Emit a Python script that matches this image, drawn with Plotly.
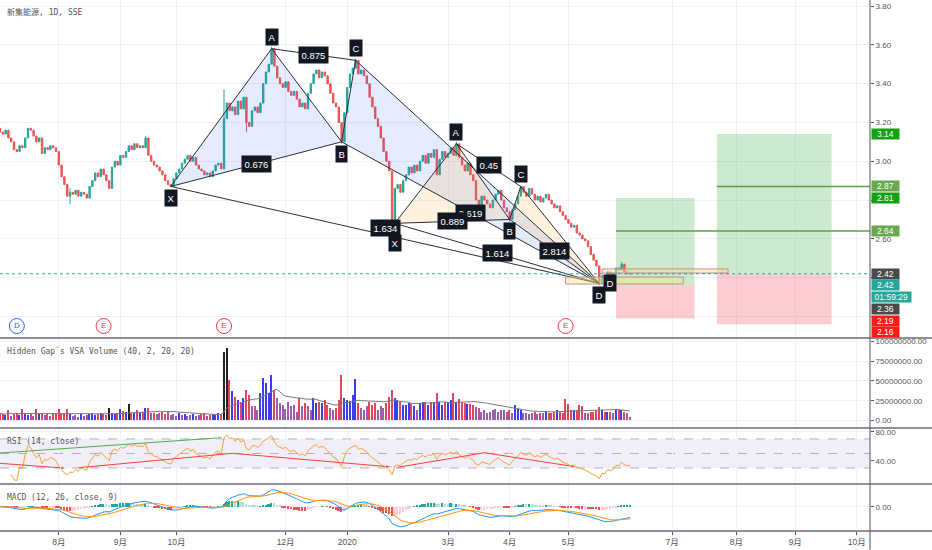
import numpy as np
import pandas as pd
import plotly.graph_objects as go
from plotly.subplots import make_subplots

# daily bars, index 0 = first bar at the left edge (early July 2019)
closes = [
    3.15, 3.14, 3.16, 3.12, 3.10, 3.06, 3.05, 3.08, 3.07, 3.12,
    3.17, 3.16, 3.13, 3.10, 3.12, 3.04, 3.07, 3.06, 3.08, 3.07,
    3.05, 2.98, 2.92, 2.88, 2.82, 2.84, 2.83, 2.85, 2.82, 2.84,
    2.83, 2.81, 2.87, 2.90, 2.94, 2.92, 2.96, 2.93, 2.90, 2.86,
    2.97, 3.00, 2.98, 3.03, 3.02, 3.05, 3.08, 3.06, 3.09, 3.07,
    3.08, 3.07, 3.12, 3.03, 3.00, 2.98, 2.97, 2.95, 2.93, 2.90,
    2.88, 2.87, 2.91, 2.94, 2.96, 2.99, 3.01, 3.03, 3.00, 3.02,
    2.98, 2.96, 2.95, 2.93, 2.94, 2.92, 2.95, 2.98, 2.99, 2.96,
    3.22, 3.30, 3.26, 3.28, 3.24, 3.31, 3.27, 3.33, 3.20, 3.18,
    3.26, 3.28, 3.25, 3.30, 3.40, 3.46, 3.50, 3.58, 3.49, 3.43,
    3.40, 3.38, 3.41, 3.36, 3.34, 3.36, 3.32, 3.28, 3.30, 3.27,
    3.35, 3.40, 3.45, 3.47, 3.43, 3.46, 3.44, 3.40, 3.35, 3.30,
    3.28, 3.20, 3.10, 3.25, 3.38, 3.45, 3.48, 3.52, 3.45, 3.47,
    3.44, 3.40, 3.33, 3.28, 3.22, 3.18, 3.12, 3.05, 3.00, 2.95,
    2.70, 2.86, 2.88, 2.84, 2.90, 2.93, 2.97, 2.94, 2.98, 2.95,
    3.00, 3.03, 2.99, 3.04, 3.02, 3.06, 2.93, 3.01, 3.05, 3.02,
    3.04, 3.07, 3.03, 3.09, 3.02, 2.98, 2.95, 2.99, 2.93, 2.90,
    2.80, 2.77, 2.82, 2.80, 2.78, 2.76, 2.80, 2.83, 2.85, 2.80,
    2.76, 2.74, 2.70, 2.75, 2.78, 2.82, 2.87, 2.84, 2.82, 2.86,
    2.83, 2.80, 2.82, 2.79, 2.81, 2.83, 2.80, 2.78, 2.76, 2.77,
    2.74, 2.72, 2.70, 2.68, 2.66, 2.67, 2.63, 2.62, 2.60, 2.59,
    2.56, 2.52, 2.49, 2.46, 2.37, 2.41, 2.40, 2.43, 2.41, 2.42,
    2.45, 2.44, 2.47, 2.43, 2.42, 2.42,
]
first_open = 3.17
high_wicks = {25: 2.86, 52: 3.13, 80: 3.37, 97: 3.59, 127: 3.53, 163: 3.10, 222: 2.48}
low_wicks = {25: 2.78, 88: 3.15, 122: 3.09, 141: 2.68, 182: 2.69, 214: 2.36}

volume_mln = [
    9, 8, 7, 13, 6, 8, 9, 7, 14, 8,
    7, 9, 6, 15, 8, 9, 7, 8, 6, 9,
    8, 14, 9, 10, 15, 8, 6, 7, 5, 8,
    6, 7, 8, 9, 7, 8, 10, 8, 7, 16,
    9, 8, 10, 14, 12, 11, 21, 10, 9, 13,
    10, 11, 16, 16, 9, 10, 8, 9, 11, 8,
    12, 7, 8, 6, 9, 7, 8, 6, 7, 8,
    6, 7, 8, 9, 6, 7, 8, 7, 9, 8,
    87, 92, 51, 37, 30, 26, 24, 28, 38, 32,
    18, 18, 13, 35, 54, 47, 35, 58, 39, 28,
    22, 20, 14, 24, 18, 20, 11, 28, 18, 22,
    18, 13, 28, 22, 24, 22, 26, 20, 16, 13,
    16, 26, 58, 28, 26, 25, 32, 52, 22, 16,
    13, 18, 24, 20, 22, 13, 18, 16, 22, 30,
    38, 28, 26, 24, 20, 19, 22, 21, 18, 13,
    22, 23, 23, 20, 23, 24, 35, 24, 20, 23,
    24, 26, 35, 24, 27, 23, 22, 21, 21, 20,
    17, 16, 11, 13, 9, 11, 13, 14, 11, 13,
    13, 11, 13, 9, 19, 14, 13, 9, 10, 8,
    9, 11, 8, 10, 9, 11, 9, 10, 11, 13,
    11, 9, 27, 21, 13, 13, 13, 19, 18, 10,
    9, 11, 11, 13, 17, 13, 11, 11, 11, 10,
    14, 13, 13, 11, 9, 5,
]
climax_bars = [39, 46, 80, 81]

tick_idx = [21, 43, 63, 102, 124, 160, 182, 203, 240, 263, 284, 306]
tick_text = ["8月", "9月", "10月", "12月", "2020", "3月", "4月", "5月", "7月", "8月", "9月", "10月"]

# harmonic patterns: points X, A, B, C, D as (bar index, price)
pat1_x = [61, 97, 122, 127, 214]
pat1_y = [2.87, 3.58, 3.10, 3.52, 2.37]
pat1_ratios = ["0.676", "0.875", "1.634", "2.619"]  # XB, AC, XD, BD
pat2_x = [141, 163, 182, 186, 214]
pat2_y = [2.68, 3.09, 2.70, 2.87, 2.37]
pat2_ratios = ["0.889", "0.45", "1.614", "2.814"]
extra_d = (218, 2.375)

# long position tools
pos_start = [220, 256]
pos_end = [248, 297]
pos_entry = [2.36, 2.42]
pos_target = [2.81, 3.14]
pos_stop = [2.19, 2.16]
tp_level = [2.64, 2.87]

# potential reversal zones
prz_x0 = [215, 202]
prz_x1 = [260, 244]
prz_lo = [2.424, 2.367]
prz_hi = [2.445, 2.403]

event_idx = [6, 37, 80, 202]
event_kind = ["D", "E", "E", "E"]

rsi_div_x = [[0, 80], [0, 24], [28, 83, 140], [142, 173, 206]]
rsi_div_y = [[50.6, 72.0], [36.4, 29.5], [30.3, 50.2, 31.3], [30.9, 51.0, 31.3]]
rsi_div_col = ["#4caf50", "#f44336", "#f44336", "#f44336"]

last_price = 2.42
countdown = "01:59:29"
# right scale badges: value, background
badges = [
    (3.14, "#13a113"), (2.87, "#6aa84f"), (2.81, "#13a113"), (2.64, "#6aa84f"),
    (2.42, "#4a4a4a"), (2.42, "#26a69a"), (None, "#26a69a"), (2.36, "#4a4a4a"),
    (2.19, "#ff1a1a"), (2.16, "#ff1a1a"),
]
# price scale ticks; the ones hidden behind badges carry no text
price_ticks = [2.2, 2.4, 2.6, 2.8, 3.0, 3.2, 3.4, 3.6, 3.8]
price_tick_text = ["", "", "2.60", "", "3.00", "3.20", "3.40", "3.60", "3.80"]

# ---------------------------------------------------------------
W, H = 932, 550
row_px = [338, 90, 56, 47]
plot_h = sum(row_px)
price_range = [2.089, 3.831]
x_range = [0, 310.7]
GRID = "#eef1f7"
AXC = "#555555"
FONT = "Liberation Sans, Noto Sans CJK SC"
MONO = "DejaVu Sans Mono, Noto Sans CJK SC"

n = len(closes)
idx = np.arange(n)
c = np.array(closes)
o = np.array([first_open] + closes[:-1])
hi = np.maximum(o, c)
lo = np.minimum(o, c)
for k, v in high_wicks.items():
    hi[k] = max(hi[k], v)
for k, v in low_wicks.items():
    lo[k] = min(lo[k], v)

vol = np.array(volume_mln) * 1e6
vol_ma = pd.Series(vol).rolling(20, min_periods=1).mean().values
vol_col = []
for i in range(n):
    if i in climax_bars:
        vol_col.append("#222222")
    elif vol[i] >= 0.8 * vol_ma[i]:
        vol_col.append("#3d3df0" if c[i] >= o[i] else "#e2465a")
    else:
        vol_col.append("#9b5fae")

s = pd.Series(c)
d = s.diff()
g = d.clip(lower=0).ewm(alpha=1 / 14, adjust=True).mean()
l_ = (-d.clip(upper=0)).ewm(alpha=1 / 14, adjust=True).mean()
rsi = (100 - 100 / (1 + g / l_)).values
rsi[:4] = np.nan

ema12 = s.ewm(span=12, adjust=False).mean()
ema26 = s.ewm(span=26, adjust=False).mean()
macd = (ema12 - ema26).values
signal = pd.Series(macd).ewm(span=9, adjust=False).mean().values
hist = macd - signal
hist_col = []
for i in range(n):
    prev = hist[i - 1] if i > 0 else 0
    if hist[i] >= 0:
        hist_col.append("#26a69a" if hist[i] >= prev else "#b2dfdb")
    else:
        hist_col.append("#ffcdd2" if hist[i] >= prev else "#ef5350")

fig = make_subplots(rows=4, cols=1, shared_xaxes=True, vertical_spacing=0,
                    row_heights=row_px)

# pattern fills under candles
def tri(px, py, a, b, cc, color):
    fig.add_trace(go.Scatter(x=[px[a], px[b], px[cc], px[a]], y=[py[a], py[b], py[cc], py[a]],
                             fill="toself", fillcolor=color, mode="lines", line=dict(width=0),
                             hoverinfo="skip"), row=1, col=1)

tri(pat1_x, pat1_y, 0, 1, 2, "rgba(41,98,255,0.12)")
tri(pat1_x, pat1_y, 2, 3, 4, "rgba(41,98,255,0.12)")
tri(pat2_x, pat2_y, 0, 1, 2, "rgba(255,152,0,0.13)")
tri(pat2_x, pat2_y, 2, 3, 4, "rgba(255,152,0,0.13)")

fig.add_trace(go.Candlestick(
    x=idx, open=o, high=hi, low=lo, close=c, whiskerwidth=0,
    increasing=dict(line=dict(color="#26a69a", width=1), fillcolor="#26a69a"),
    decreasing=dict(line=dict(color="#ef5350", width=1), fillcolor="#ef5350"),
    hoverinfo="skip"), row=1, col=1)

# pattern legs
for px, py in [(pat1_x, pat1_y), (pat2_x, pat2_y)]:
    lx, ly = [], []
    for a, b in [(0, 1), (1, 2), (2, 3), (3, 4), (0, 2), (1, 3), (0, 4), (2, 4)]:
        lx += [px[a], px[b], None]
        ly += [py[a], py[b], None]
    fig.add_trace(go.Scatter(x=lx, y=ly, mode="lines", line=dict(color="#2a2e39", width=1),
                             hoverinfo="skip"), row=1, col=1)

# event markers
ev_y = price_range[0] + (338 - 326) / 338 * (price_range[1] - price_range[0])
ev_col = ["#2962ff" if k == "D" else "#f23645" for k in event_kind]
fig.add_trace(go.Scatter(
    x=event_idx, y=[ev_y] * len(event_idx), mode="markers+text", text=event_kind,
    textfont=dict(size=8, family=FONT, color=ev_col),
    marker=dict(size=15, color="white", line=dict(width=1, color=ev_col)),
    hoverinfo="skip"), row=1, col=1)

# volume
fig.add_trace(go.Bar(x=idx, y=vol, marker=dict(color=vol_col, line=dict(width=0)), width=0.5,
                     hoverinfo="skip"), row=2, col=1)
fig.add_trace(go.Scatter(x=idx, y=vol_ma, mode="lines", line=dict(color="#7a7a7a", width=1),
                         hoverinfo="skip"), row=2, col=1)

# rsi
fig.add_trace(go.Scatter(x=idx, y=rsi, mode="lines", line=dict(color="#f5a030", width=1),
                         hoverinfo="skip"), row=3, col=1)
for dx, dy, col in zip(rsi_div_x, rsi_div_y, rsi_div_col):
    fig.add_trace(go.Scatter(x=dx, y=dy, mode="lines+markers", line=dict(color=col, width=1),
                             marker=dict(symbol="arrow", size=[0] * (len(dx) - 1) + [7], color=col,
                                         angleref="previous"),
                             hoverinfo="skip"), row=3, col=1)

# macd
fig.add_trace(go.Bar(x=idx, y=hist, marker=dict(color=hist_col, line=dict(width=0)), width=0.6,
                     hoverinfo="skip"), row=4, col=1)
fig.add_trace(go.Scatter(x=idx, y=macd, mode="lines", line=dict(color="#2196f3", width=1),
                         hoverinfo="skip"), row=4, col=1)
fig.add_trace(go.Scatter(x=idx, y=signal, mode="lines", line=dict(color="#ff9800", width=1),
                         hoverinfo="skip"), row=4, col=1)

# ---- shapes
shapes = []
for x0, x1, en, tp, sl in zip(pos_start, pos_end, pos_entry, pos_target, pos_stop):
    shapes.append(dict(type="rect", xref="x", yref="y", x0=x0, x1=x1, y0=en, y1=tp,
                       fillcolor="rgba(76,175,80,0.28)", line=dict(width=0), layer="between"))
    shapes.append(dict(type="rect", xref="x", yref="y", x0=x0, x1=x1, y0=sl, y1=en,
                       fillcolor="rgba(242,54,69,0.25)", line=dict(width=0), layer="between"))
for x0, lvl in zip(pos_start, tp_level):
    shapes.append(dict(type="line", xref="x", yref="y", x0=x0, x1=x_range[1], y0=lvl, y1=lvl,
                       line=dict(color="#5e9c4a", width=1.5)))
for x0, x1, y0, y1 in zip(prz_x0, prz_x1, prz_lo, prz_hi):
    shapes.append(dict(type="rect", xref="x", yref="y", x0=x0, x1=x1, y0=y0, y1=y1,
                       fillcolor="rgba(240,235,120,0.45)", line=dict(color="#c58a9c", width=1)))
shapes.append(dict(type="line", xref="x", yref="y", x0=x_range[0], x1=x_range[1],
                   y0=last_price, y1=last_price, line=dict(color="#26a69a", width=1, dash="dot")))
# volume zero line
shapes.append(dict(type="line", xref="x2", yref="y2", x0=x_range[0], x1=x_range[1], y0=0, y1=0,
                   line=dict(color="#9a9a9a", width=1, dash="dash"), layer="below"))
# rsi band
shapes.append(dict(type="rect", xref="x3 domain", yref="y3", x0=0, x1=1, y0=30, y1=70,
                   fillcolor="rgba(126,87,194,0.1)", line=dict(width=0), layer="below"))
for lvl in [70, 50, 30]:
    shapes.append(dict(type="line", xref="x3 domain", yref="y3", x0=0, x1=1, y0=lvl, y1=lvl,
                       line=dict(color="#b0b0b8", width=1, dash="dash"), layer="below"))
# pane separators and scale border
full_w = W / (W - 62)
acc = 0
for hpx in row_px[::-1][:-1]:
    acc += hpx
    shapes.append(dict(type="line", xref="paper", yref="paper", x0=0, x1=full_w,
                       y0=acc / plot_h, y1=acc / plot_h, line=dict(color="#6a6d78", width=1.5)))
shapes.append(dict(type="line", xref="paper", yref="paper", x0=0, x1=full_w, y0=0, y1=0,
                   line=dict(color="#6a6d78", width=1.5)))
shapes.append(dict(type="line", xref="paper", yref="paper", x0=1, x1=1, y0=-19 / plot_h, y1=1,
                   line=dict(color="#6a6d78", width=1.2)))

# ---- annotations
ann = []
def box(x, y, text, yshift=0):
    ann.append(dict(x=x, y=y, xref="x", yref="y", text=text, showarrow=False, yshift=yshift,
                    font=dict(size=9.5, color="white", family=FONT), bgcolor="#131722",
                    borderpad=2.5))

for p, (px, py, ratios) in enumerate([(pat1_x, pat1_y, pat1_ratios), (pat2_x, pat2_y, pat2_ratios)]):
    for k, name in enumerate("XABCD"):
        if p == 1 and name == "D":
            continue
        shift = 12 if name in "AC" else -12
        if p == 1 and name == "X":
            shift = -20
        box(px[k], py[k], name, shift)
    for (a, b), r in zip([(0, 2), (1, 3), (0, 4), (2, 4)], ratios):
        box((px[a] + px[b]) / 2, (py[a] + py[b]) / 2, r, 7 if (p == 0 and a == 0 and b == 4) else 0)
box(extra_d[0], extra_d[1], "D")

ppu = row_px[0] / (price_range[1] - price_range[0])
gap = 11.7 / ppu
last = None
for val, bg in badges:
    if val is None:
        yv, txt, wdt = last - gap, countdown, 37
    else:
        yv, txt, wdt = val, "%.2f" % val, 25
        if last is not None:
            yv = min(yv, last - gap)
    last = yv
    ann.append(dict(x=1, y=yv, xref="paper", yref="y", xanchor="left", xshift=1, text=txt,
                    showarrow=False, bgcolor=bg, width=wdt, height=8, borderpad=0.8,
                    font=dict(size=8.5, color="white", family=FONT)))

def label(px_x, px_y, text):
    ann.append(dict(x=px_x / (W - 62), y=1 - px_y / plot_h, xref="paper", yref="paper",
                    xanchor="left", yanchor="middle", text=text, showarrow=False,
                    font=dict(size=8, color="#555555", family=MONO)))

label(5, 12, "新集能源, 1D, SSE")
label(5, 351, "Hidden Gap`s VSA Volume (40, 2, 20, 20)")
label(5, 441, "RSI (14, close)")
label(5, 497, "MACD (12, 26, close, 9)")

# ---- axes
mlo = min(macd.min(), signal.min(), hist.min())
mhi = max(macd.max(), signal.max(), hist.max())
zero_frac = (531 - 506.7) / row_px[3]
sc = max(abs(mlo) / 0.43, mhi / 0.36)
macd_range = [-zero_frac * sc, (1 - zero_frac) * sc]

fig.update_xaxes(range=x_range, tickvals=tick_idx, ticktext=tick_text, showgrid=True,
                 gridcolor=GRID, zeroline=False, rangeslider_visible=False,
                 tickfont=dict(size=8.5, color=AXC, family=FONT), ticks="", showline=False)
fig.update_xaxes(ticks="outside", ticklen=3, tickcolor=AXC, row=4, col=1)

yax = dict(side="right", showgrid=True, gridcolor=GRID, zeroline=False, ticks="outside",
           ticklen=3, tickcolor=AXC, tickfont=dict(size=8, color=AXC, family=FONT),
           showline=False, fixedrange=True)
fig.update_yaxes(range=price_range, tickvals=price_ticks, ticktext=price_tick_text,
                 row=1, col=1, **yax)
vtk = [0, 25e6, 50e6, 75e6, 100e6]
fig.update_yaxes(range=[-9.5e6, 104.4e6], tickvals=vtk, ticktext=["%.2f" % v for v in vtk],
                 row=2, col=1, **yax)
fig.update_yaxes(range=[7.9, 85.1], tickvals=[40, 80], ticktext=["40.00", "80.00"],
                 row=3, col=1, **yax)
fig.update_yaxes(range=macd_range, tickvals=[0], ticktext=["0.00"], row=4, col=1, **yax)

fig.update_layout(width=W, height=H, margin=dict(l=0, r=62, t=0, b=19),
                  plot_bgcolor="white", paper_bgcolor="white", showlegend=False,
                  bargap=0, shapes=shapes, annotations=ann, hovermode=False)

fig.write_html("out.html", config={"displayModeBar": False},
               post_script="document.body.style.margin='0px';")
